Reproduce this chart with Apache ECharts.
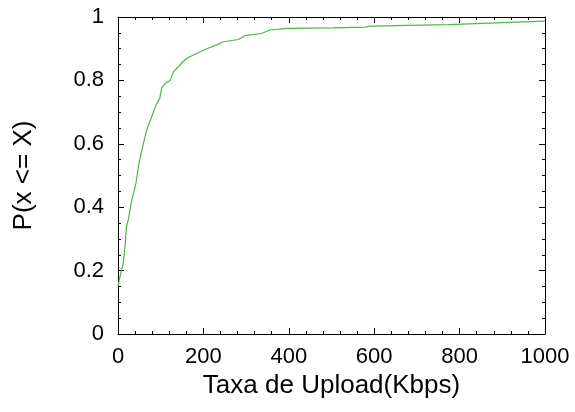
<!DOCTYPE html>
<html>
<head>
<meta charset="utf-8">
<script src="https://cdn.jsdelivr.net/npm/echarts@6/dist/echarts.min.js"></script>
<style>
  html, body { margin: 0; padding: 0; background: #fff; }
  #chart { width: 575px; height: 412px; }
</style>
</head>
<body>
<div id="chart"></div>
<script>
// taxa de upload (Kbps) e probabilidade acumulada
var uploadRate = [0, 3, 8, 12, 16, 20, 24, 32, 42, 48, 55, 67, 79, 89, 98, 102, 110, 122, 130, 149,
                  161, 184, 208, 231, 247, 282, 297, 336, 356, 395, 504, 580, 590, 773, 777, 1000];
var cdf = [0.15, 0.17, 0.2, 0.22, 0.27, 0.34, 0.36, 0.42, 0.475, 0.53, 0.575, 0.643, 0.686, 0.722, 0.744, 0.775, 0.79, 0.80, 0.827, 0.854,
           0.87, 0.885, 0.90, 0.912, 0.922, 0.929, 0.941, 0.948, 0.959, 0.964, 0.966, 0.968, 0.971, 0.976, 0.979, 0.987];

var points = [];
for (var i = 0; i < uploadRate.length; i++) {
    points.push([uploadRate[i], cdf[i]]);
}

var font = 'Liberation Sans, Arial, sans-serif';
var axisLine = {show: true, onZero: false, lineStyle: {color: '#000', width: 1}};
var tick = {show: true, inside: true, length: 6, lineStyle: {color: '#000'}};

var chart = echarts.init(document.getElementById('chart'));
var option = {
    animation: false,
    grid: {left: 118, right: 30, top: 17, bottom: 78},
    xAxis: [{
        type: 'value',
        min: 0, max: 1000, interval: 200,
        name: 'Taxa de Upload(Kbps)',
        nameLocation: 'middle',
        nameGap: 36,
        nameTextStyle: {fontFamily: font, fontSize: 26, color: '#000'},
        axisLine: axisLine,
        axisTick: tick,
        minorTick: {show: true, splitNumber: 5, length: 3, lineStyle: {color: '#000'}},
        splitLine: {show: false},
        axisLabel: {fontFamily: font, fontSize: 22, color: '#000', margin: 12,
                    formatter: function (v) { return String(v); }}
    }, {
        type: 'value',
        position: 'top',
        min: 0, max: 1000, interval: 200,
        axisLine: axisLine,
        axisTick: tick,
        minorTick: {show: true, splitNumber: 5, length: 3, lineStyle: {color: '#000'}},
        splitLine: {show: false},
        axisLabel: {show: false}
    }],
    yAxis: [{
        type: 'value',
        min: 0, max: 1, interval: 0.2,
        name: 'P(x <= X)',
        nameLocation: 'middle',
        nameGap: 81,
        nameTextStyle: {fontFamily: font, fontSize: 26, color: '#000'},
        axisLine: axisLine,
        axisTick: tick,
        minorTick: {show: true, splitNumber: 4, length: 3, lineStyle: {color: '#000'}},
        splitLine: {show: false},
        axisLabel: {fontFamily: font, fontSize: 22, color: '#000', margin: 14}
    }, {
        type: 'value',
        position: 'right',
        min: 0, max: 1, interval: 0.2,
        axisLine: axisLine,
        axisTick: tick,
        minorTick: {show: true, splitNumber: 4, length: 3, lineStyle: {color: '#000'}},
        splitLine: {show: false},
        axisLabel: {show: false}
    }],
    series: [{
        type: 'line',
        data: points,
        showSymbol: false,
        lineStyle: {color: '#4cb944', width: 1.2},
        itemStyle: {color: '#4cb944'}
    }]
};
chart.setOption(option);
</script>
</body>
</html>
